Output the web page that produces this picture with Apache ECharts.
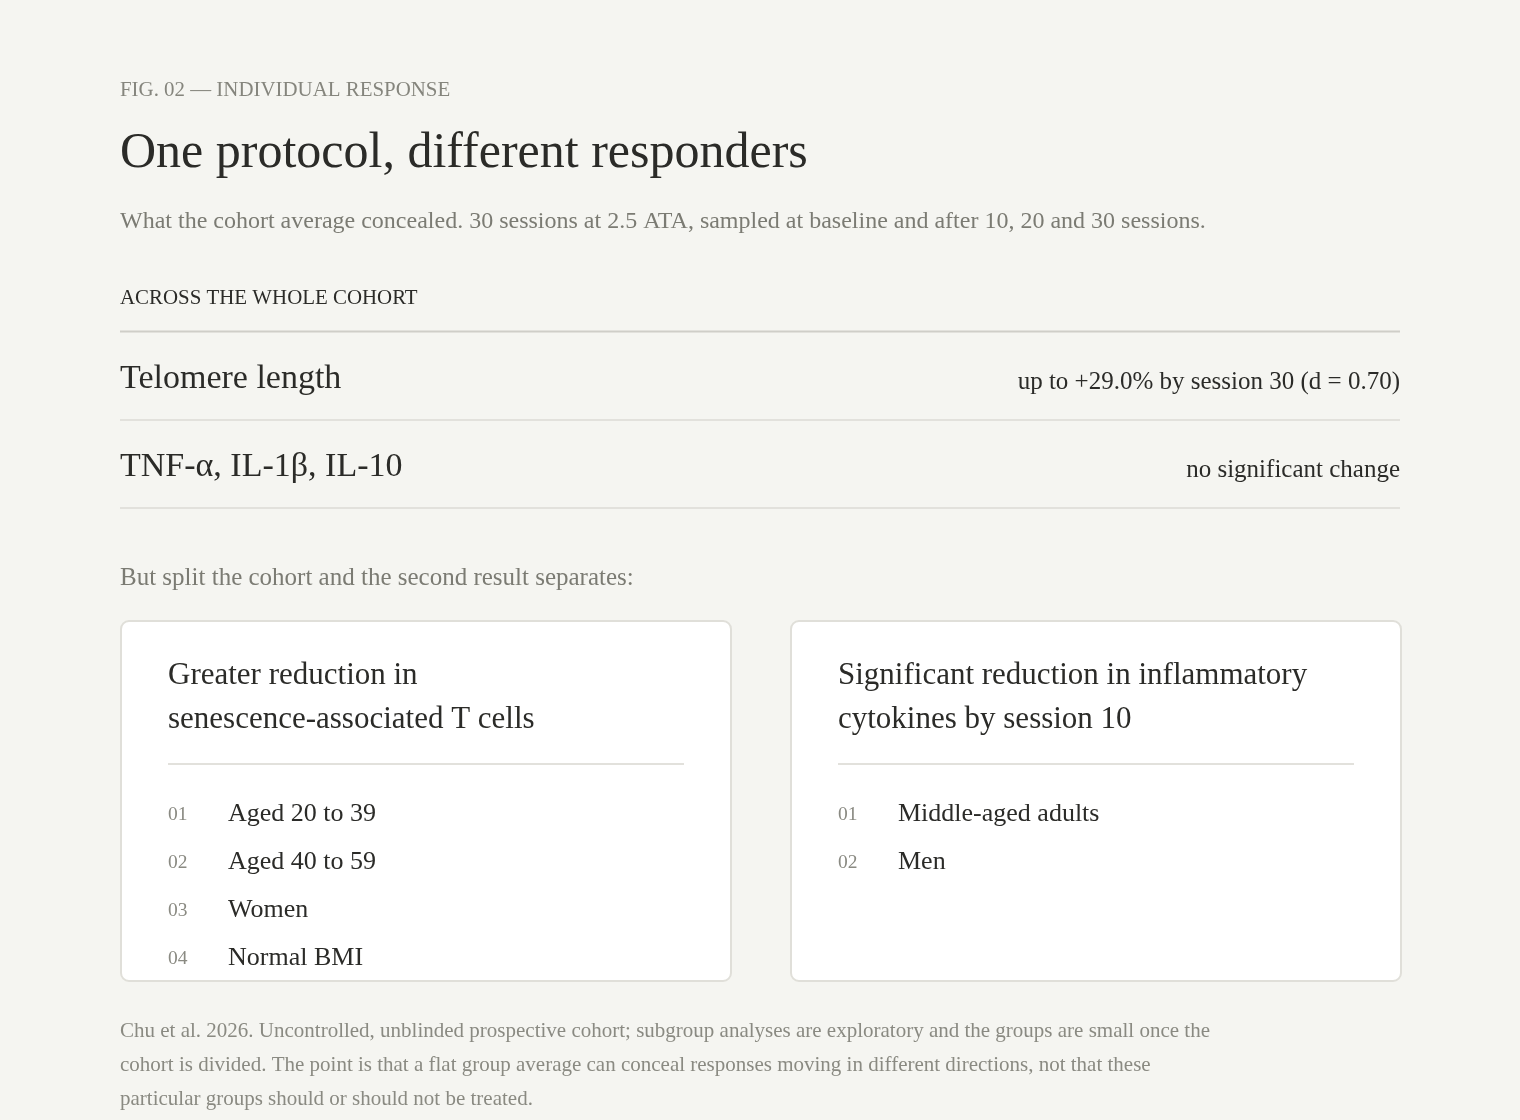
<!DOCTYPE html>
<html><head><meta charset="utf-8">
<script src="https://cdn.jsdelivr.net/npm/echarts@6/dist/echarts.min.js"></script>
<style>html,body{margin:0;padding:0;background:#f5f5f1}#c{width:1520px;height:1120px}</style>
</head><body><div id="c"></div>
<script>
const eyebrow = "FIG. 02 — INDIVIDUAL RESPONSE";
const title = "One protocol, different responders";
const subtitle = "What the cohort average concealed. 30 sessions at 2.5 ATA, sampled at baseline and after 10, 20 and 30 sessions.";
const sectionLabel = "ACROSS THE WHOLE COHORT";
const rowLabels = ["Telomere length", "TNF-α, IL-1β, IL-10"];
const rowValues = ["up to +29.0% by session 30 (d = 0.70)", "no significant change"];
const splitNote = "But split the cohort and the second result separates:";
const cardTitles = [
  ["Greater reduction in", "senescence-associated T cells"],
  ["Significant reduction in inflammatory", "cytokines by session 10"]
];
const cardItems = [
  ["Aged 20 to 39", "Aged 40 to 59", "Women", "Normal BMI"],
  ["Middle-aged adults", "Men"]
];
const footnote = [
  "Chu et al. 2026. Uncontrolled, unblinded prospective cohort; subgroup analyses are exploratory and the groups are small once the",
  "cohort is divided. The point is that a flat group average can conceal responses moving in different directions, not that these",
  "particular groups should or should not be treated."
];

const FONT = "'Liberation Serif', 'DejaVu Serif', serif";
const DARK = "#2b2b28", GREY = "#7b7b73", LIGHT = "#8a8a82";
const els = [];
function txt(x, y, s, size, color, align, extra) {
  els.push(Object.assign({
    type: 'text', x: x, y: y, silent: true,
    style: { text: s, fontFamily: FONT, fontSize: size, fill: color,
             align: align || 'left', verticalAlign: 'middle' }
  }, extra || {}));
}
function line(x1, y1, x2, y2, color, w) {
  els.push({ type: 'line', silent: true, shape: { x1, y1, x2, y2 },
    style: { stroke: color, lineWidth: w } });
}
const L = 120, R = 1400;
txt(L, 91, eyebrow, 20.9, "#85857d");
txt(L, 154, title, 50, DARK);
txt(L, 222, subtitle, 24, GREY);
txt(L, 299, sectionLabel, 20.9, DARK);
line(L, 331.5, R, 331.5, "#cfcec8", 2);
const rowY = [379, 467];
rowLabels.forEach((s, i) => {
  txt(L, rowY[i], s, 34, DARK);
  txt(R, rowY[i] + 3, rowValues[i], 25, DARK, 'right');
  line(L, 420 + i * 88, R, 420 + i * 88, "#e2e1dc", 2);
});
txt(L, 578, splitNote, 25, GREY);
const cardX = [121, 791], cardW = 610, cardTop = 621, cardH = 360;
cardX.forEach((cx, ci) => {
  els.push({ type: 'rect', silent: true, shape: { x: cx, y: cardTop, width: cardW, height: cardH, r: 8 },
    style: { fill: '#ffffff', stroke: '#e0dfd9', lineWidth: 2 } });
  cardTitles[ci].forEach((s, li) => txt(cx + 47, 676 + li * 44, s, 31, DARK));
  line(cx + 47, 764, cx + cardW - 47, 764, "#e2e1dc", 2);
  cardItems[ci].forEach((s, k) => {
    const y = 814 + k * 48;
    txt(cx + 47, y + 1, String(k + 1).padStart(2, '0'), 19.5, LIGHT);
    txt(cx + 107, y, s, 26, DARK);
  });
});
footnote.forEach((s, i) => txt(L, 1031 + i * 34, s, 21, LIGHT));

const chart = echarts.init(document.getElementById('c'), null, { renderer: 'canvas' });
chart.setOption({ backgroundColor: '#f5f5f1', animation: false, graphic: { elements: els } });
</script></body></html>
